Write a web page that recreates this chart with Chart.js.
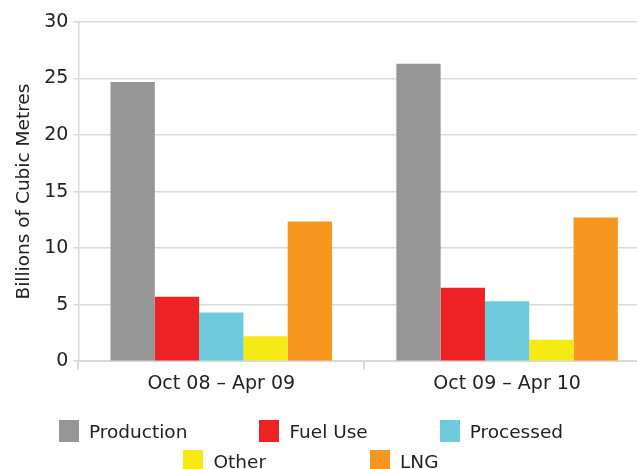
<!DOCTYPE html>
<html>
<head>
<meta charset="utf-8">
<script src="https://cdn.jsdelivr.net/npm/chart.js@4/dist/chart.umd.min.js"></script>
<style>
  html, body { margin: 0; padding: 0; background: #fff; overflow: hidden; }
  #wrap { position: relative; width: 650px; height: 469px; }
  #legend { position: absolute; left: 6px; top: 420px; width: 610px; font-family: 'DejaVu Sans', sans-serif; font-size: 18.5px; color: #222; }
  .row { display: flex; justify-content: center; height: 30px; align-items: flex-start; }
  .row1 { gap: 72px; }
  .row2 { gap: 104px; }
  .item { display: flex; align-items: center; height: 22px; white-space: nowrap; }
  .sw { width: 20px; height: 22px; margin-right: 10px; display: inline-block; }
</style>
</head>
<body>
<div id="wrap"><canvas id="c"></canvas><div id="legend"></div></div>
<script>
const categories = ["Oct 08 \u2013 Apr 09", "Oct 09 \u2013 Apr 10"];
const production = [24.7, 26.3];
const fuelUse = [5.7, 6.5];
const processed = [4.3, 5.3];
const other = [2.2, 1.9];
const lng = [12.35, 12.7];
const yTicks = [0, 5, 10, 15, 20, 25, 30];

const FONT = "'DejaVu Sans', sans-serif";
const GRID = '#d9d9d9';

const chart = new Chart(document.getElementById('c'), {
  type: 'bar',
  data: {
    labels: categories,
    datasets: [
      { label: 'Production', data: production, backgroundColor: '#969696' },
      { label: 'Fuel Use', data: fuelUse, backgroundColor: '#ED2224' },
      { label: 'Processed', data: processed, backgroundColor: '#6FCBDC' },
      { label: 'Other', data: other, backgroundColor: '#F5EA14' },
      { label: 'LNG', data: lng, backgroundColor: '#F7971F' }
    ]
  },
  options: {
    responsive: true,
    maintainAspectRatio: false,
    animation: false,
    datasets: { bar: { barPercentage: 1, categoryPercentage: 0.775 } },
    layout: { padding: { top: 22, left: 13, right: 0, bottom: 71 } },
    plugins: {
      tooltip: { enabled: false },
      legend: { display: false }
    },
    scales: {
      x: {
        offset: true,
        grid: { offset: true, drawOnChartArea: false, drawTicks: true, tickLength: 8, color: GRID, lineWidth: 2 },
        border: { color: GRID, width: 2 },
        ticks: { color: '#222', font: { family: FONT, size: 19 }, padding: 3 }
      },
      y: {
        min: 0, max: 30,
        afterBuildTicks: (s) => { s.ticks = yTicks.map(v => ({ value: v })); },
        grid: { color: GRID, lineWidth: 1.5, tickLength: 5 },
        border: { color: GRID, width: 1.5 },
        ticks: { color: '#222', font: { family: FONT, size: 19 }, padding: 5 },
        title: { display: true, text: 'Billions of Cubic Metres', color: '#222', font: { family: FONT, size: 18.5 }, padding: { top: 0, bottom: 4 } }
      }
    }
  }
});

// HTML legend built from the chart's datasets
const legendEl = document.getElementById('legend');
const rows = [[0, 1, 2], [3, 4]];
rows.forEach((idxs, r) => {
  const row = document.createElement('div');
  row.className = 'row row' + (r + 1);
  idxs.forEach(i => {
    const ds = chart.data.datasets[i];
    const item = document.createElement('span');
    item.className = 'item';
    const sw = document.createElement('span');
    sw.className = 'sw';
    sw.style.background = ds.backgroundColor;
    item.appendChild(sw);
    item.appendChild(document.createTextNode(ds.label));
    row.appendChild(item);
  });
  legendEl.appendChild(row);
});
</script>
</body>
</html>
